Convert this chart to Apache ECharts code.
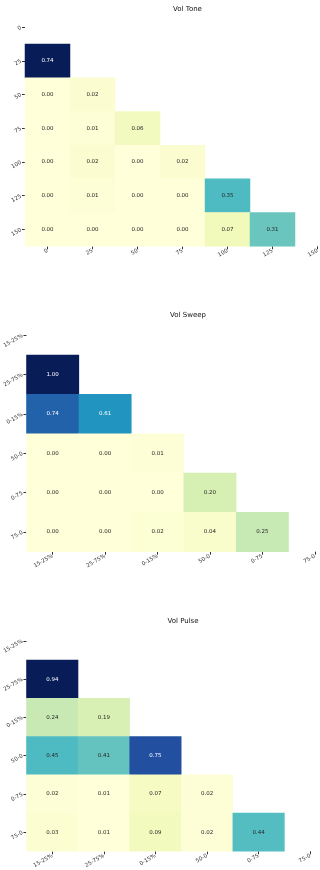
<!DOCTYPE html>
<html>
<head>
<meta charset="utf-8">
<script src="https://cdn.jsdelivr.net/npm/echarts@6/dist/echarts.min.js"></script>
<style>
  html, body { margin: 0; padding: 0; background: #fff; overflow: hidden; width: 320px; height: 870px; }
  #c { width: 360px; height: 870px; }
</style>
</head>
<body>
<div id="c"></div>
<script>
// ---- data ----
const toneTitle = "Vol Tone";
const toneCats = ["0", "25", "50", "75", "100", "125", "150"];
const toneRows = [
  [],
  [0.74],
  [0.00, 0.02],
  [0.00, 0.01, 0.06],
  [0.00, 0.02, 0.00, 0.02],
  [0.00, 0.01, 0.00, 0.00, 0.35],
  [0.00, 0.00, 0.00, 0.00, 0.07, 0.31]
];

const sweepTitle = "Vol Sweep";
const sweepCats = ["15-25%", "25-75%", "0-15%", "50-0", "0-75", "75-0"];
const sweepRows = [
  [],
  [1.00],
  [0.74, 0.61],
  [0.00, 0.00, 0.01],
  [0.00, 0.00, 0.00, 0.20],
  [0.00, 0.00, 0.02, 0.04, 0.25]
];

const pulseTitle = "Vol Pulse";
const pulseCats = ["15-25%", "25-75%", "0-15%", "50-0", "0-75", "75-0"];
const pulseRows = [
  [],
  [0.94],
  [0.24, 0.19],
  [0.45, 0.41, 0.75],
  [0.02, 0.01, 0.07, 0.02],
  [0.03, 0.01, 0.09, 0.02, 0.44]
];

// ---- style ----
const YlGnBu = ['#ffffd9','#edf8b1','#c7e9b4','#7fcdbb','#41b6c4','#1d91c0','#225ea8','#253494','#081d58'];
const FONT = 'DejaVu Sans';

function hex2rgb(h){ return [parseInt(h.substr(1,2),16), parseInt(h.substr(3,2),16), parseInt(h.substr(5,2),16)]; }
function interp(t){
  t = Math.max(0, Math.min(1, t));
  const p = t * (YlGnBu.length - 1);
  const i = Math.min(Math.floor(p), YlGnBu.length - 2);
  const f = p - i;
  const a = hex2rgb(YlGnBu[i]), b = hex2rgb(YlGnBu[i+1]);
  return a.map((v,k)=> v + (b[k]-v)*f);
}
function lum(rgb){
  const c = rgb.map(v => { v/=255; return v <= 0.03928 ? v/12.92 : Math.pow((v+0.055)/1.055, 2.4); });
  return 0.2126*c[0] + 0.7152*c[1] + 0.0722*c[2];
}

function build(rows){
  const data = [];
  let mn = Infinity, mx = -Infinity;
  rows.forEach(r => r.forEach(v => { mn = Math.min(mn, v); mx = Math.max(mx, v); }));
  rows.forEach((r, ri) => r.forEach((v, ci) => {
    const rgb = interp((v - mn) / (mx - mn));
    data.push({ value: [ci, ri, v], label: { color: lum(rgb) > 0.408 ? '#262626' : '#ffffff' } });
  }));
  return { data, mn, mx };
}

const charts = [
  { title: toneTitle, cats: toneCats, rows: toneRows, grid: { left: 25, top: 10.3, width: 315, height: 236 } },
  { title: sweepTitle, cats: sweepCats, rows: sweepRows, grid: { left: 25, top: 315.7, width: 316, height: 236 } },
  { title: pulseTitle, cats: pulseCats, rows: pulseRows, grid: { left: 20, top: 621.7, width: 316, height: 235.6 } }
];

const option = {
  animation: false,
  backgroundColor: '#ffffff',
  title: [], grid: [], xAxis: [], yAxis: [], visualMap: [], series: []
};

charts.forEach((c, i) => {
  const b = build(c.rows);
  option.title.push({
    text: c.title,
    left: c.grid.left + c.grid.width / 2,
    top: c.grid.top - 9.5,
    textAlign: 'center',
    textStyle: { fontFamily: FONT, fontSize: 7, fontWeight: 'normal', color: '#111' }
  });
  option.grid.push(Object.assign({ containLabel: false }, c.grid));
  const axisCommon = {
    type: 'category',
    gridIndex: i,
    data: c.cats,
    axisLine: { show: false },
    axisTick: { show: true, alignWithLabel: true, length: 3, lineStyle: { color: '#333', width: 1 } },
    splitLine: { show: false },
    axisLabel: { fontFamily: FONT, fontSize: 5.5, color: '#333', rotate: 30, margin: 4, interval: 0 }
  };
  option.xAxis.push(Object.assign({}, axisCommon, { position: 'bottom' }));
  option.yAxis.push(Object.assign({}, axisCommon, { inverse: true, position: 'left' }));
  option.visualMap.push({
    type: 'continuous', show: false, seriesIndex: i, dimension: 2,
    min: b.mn, max: b.mx, inRange: { color: YlGnBu }
  });
  option.series.push({
    type: 'heatmap', xAxisIndex: i, yAxisIndex: i, data: b.data,
    itemStyle: { borderWidth: 0 },
    label: { show: true, fontFamily: FONT, fontSize: 5.5, formatter: p => p.value[2].toFixed(2) },
    emphasis: { disabled: true }
  });
});

const chart = echarts.init(document.getElementById('c'), null, { renderer: 'canvas' });
chart.setOption(option);
</script>
</body>
</html>
